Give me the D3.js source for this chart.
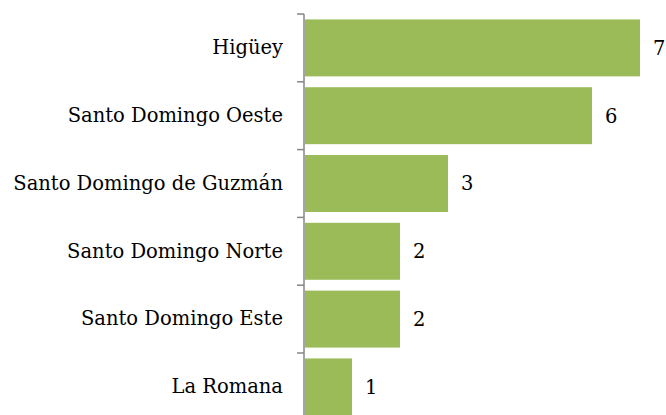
<!DOCTYPE html>
<html>
<head>
<meta charset="utf-8">
<script src="https://cdn.jsdelivr.net/npm/d3@7"></script>
<style>
  body { margin: 0; background: #fff; }
</style>
</head>
<body>
<div id="chart"></div>
<script>
var municipios = ["Higüey", "Santo Domingo Oeste", "Santo Domingo de Guzmán",
                  "Santo Domingo Norte", "Santo Domingo Este", "La Romana"];
var casos = [7, 6, 3, 2, 2, 1];

var width = 666, height = 415;
var margin = {top: 14, left: 304};
var fuente = "'DejaVu Serif', 'Liberation Serif', 'Times New Roman', serif";

var svg = d3.select("#chart")
  .append("svg")
    .attr("width", width)
    .attr("height", height);

var x = d3.scaleLinear()
  .domain([0, 7])
  .range([margin.left, margin.left + 7 * 48]);

var y = d3.scaleBand()
  .domain(municipios)
  .range([margin.top, margin.top + 6 * 67.8])
  .paddingInner(0.16)
  .paddingOuter(0.08);

// bars
svg.selectAll("rect.bar")
  .data(municipios)
  .enter()
  .append("rect")
    .attr("class", "bar")
    .attr("x", x(0) + 1)
    .attr("y", function(d) { return y(d); })
    .attr("width", function(d, i) { return x(casos[i]) - x(0) - 1; })
    .attr("height", y.bandwidth())
    .attr("fill", "#9BBB59");

// category axis
var yAxis = d3.axisLeft(y).tickSize(0).tickPadding(21);
var gy = svg.append("g")
  .attr("transform", "translate(" + margin.left + ",0)")
  .call(yAxis)
  .attr("font-family", fuente)
  .attr("font-size", 19.5);
gy.select(".domain").remove();
gy.selectAll("text").attr("fill", "#000");

// axis line and ticks between categories
svg.append("line")
  .attr("x1", margin.left).attr("x2", margin.left)
  .attr("y1", margin.top).attr("y2", margin.top + 6 * 67.8)
  .attr("stroke", "#868686").attr("stroke-width", 1.5);

var cortes = d3.range(7).map(function(i) { return margin.top + i * y.step(); });
svg.selectAll("line.tick")
  .data(cortes)
  .enter()
  .append("line")
    .attr("class", "tick")
    .attr("x1", margin.left - 7).attr("x2", margin.left)
    .attr("y1", function(d) { return d; })
    .attr("y2", function(d) { return d; })
    .attr("stroke", "#868686").attr("stroke-width", 1.5);

// value labels
svg.selectAll("text.valor")
  .data(municipios)
  .enter()
  .append("text")
    .attr("class", "valor")
    .attr("x", function(d, i) { return x(casos[i]) + 13; })
    .attr("y", function(d) { return y(d) + y.bandwidth() / 2; })
    .attr("dy", "0.35em")
    .attr("font-family", fuente)
    .attr("font-size", 19.5)
    .text(function(d, i) { return casos[i]; });
</script>
</body>
</html>
